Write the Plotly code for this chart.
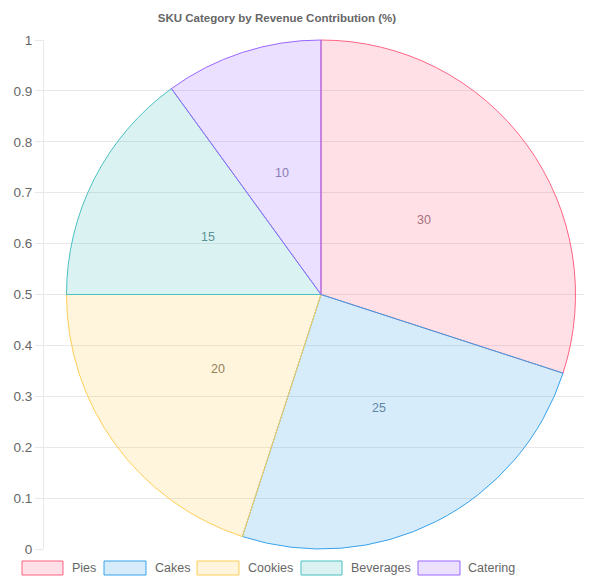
import math
import plotly.graph_objects as go

categories = ["Pies", "Cakes", "Cookies", "Beverages", "Catering"]
values = [30, 25, 20, 15, 10]
fill_colors = ["rgba(255,99,132,0.2)", "rgba(54,162,235,0.2)", "rgba(255,206,86,0.2)",
               "rgba(75,192,192,0.2)", "rgba(153,102,255,0.2)"]
border_colors = ["rgb(255,99,132)", "rgb(54,162,235)", "rgb(255,206,86)",
                 "rgb(75,192,192)", "rgb(153,102,255)"]
label_colors = ["#a8707c", "#5e86a4", "#948259", "#5d9292", "#8a7db4"]
y_ticks = [0, 0.1, 0.2, 0.3, 0.4, 0.5, 0.6, 0.7, 0.8, 0.9, 1]
y_ticklabels = ["0", "0.1", "0.2", "0.3", "0.4", "0.5", "0.6", "0.7", "0.8", "0.9", "1"]

OFF = 8  # page body margin
W, H = 592 - OFF, 577 - OFF
ML, MR, MT, MB = 44 - OFF, 2, 40 - OFF, 28
PW, PH = W - ML - MR, H - MT - MB

def px_x(x):  # screen pixel -> paper
    return (x - OFF - ML) / PW

def px_y(y):
    return (H - MB - (y - OFF)) / PH

def clamp(v):
    return min(1.0, max(0.0, v))

font = "Arial, Liberation Sans, Helvetica, sans-serif"

# pie geometry (screen pixels)
CX, CY, R = 321, 294.5, 254.5

fig = go.Figure()
fig.add_trace(go.Scatter(x=[0, 1], y=[0, 1], mode="markers", marker=dict(opacity=0),
                         hoverinfo="skip", showlegend=False))
fig.add_trace(go.Pie(
    labels=categories, values=values, sort=False, direction="clockwise", rotation=0,
    marker=dict(colors=fill_colors, line=dict(color=border_colors, width=1)),
    textinfo="none",
    domain=dict(x=[clamp(px_x(CX - R)), clamp(px_x(CX + R))],
                y=[clamp(px_y(CY + R)), clamp(px_y(CY - R))]),
    showlegend=False, hoverinfo="label+value",
))

annotations = []
total = sum(values)
cum = 0
for i, v in enumerate(values):
    mid = (cum + v / 2) / total * 2 * math.pi
    cum += v
    lx = CX + 0.5 * R * math.sin(mid)
    ly = CY - 0.5 * R * math.cos(mid)
    annotations.append(dict(xref="paper", yref="paper", x=px_x(lx), y=px_y(ly),
                            text=str(v), showarrow=False, xanchor="center", yanchor="middle",
                            font=dict(family=font, size=12.5, color=label_colors[i])))

shapes = []
box_x = [(22, 63), (104, 146), (197, 239), (301, 342), (418, 460)]
text_x = [70, 153, 246, 349, 466]
for i, cat in enumerate(categories):
    shapes.append(dict(type="rect", xref="paper", yref="paper",
                       x0=px_x(box_x[i][0]), x1=px_x(box_x[i][1]),
                       y0=px_y(575), y1=px_y(561),
                       fillcolor=fill_colors[i], line=dict(color=border_colors[i], width=1)))
    annotations.append(dict(xref="paper", yref="paper", x=px_x(text_x[i]), y=px_y(568),
                            text=cat, showarrow=False, xanchor="left", yanchor="middle",
                            font=dict(family=font, size=12.5, color="#666666")))

fig.update_layout(
    width=W, height=H,
    margin=dict(l=ML, r=MR, t=MT, b=MB),
    paper_bgcolor="white", plot_bgcolor="white",
    title=dict(text="<b>SKU Category by Revenue Contribution (%)</b>",
               x=px_x(277), xanchor="center", xref="paper",
               y=1 - (18 - OFF) / H, yanchor="middle",
               font=dict(family=font, size=11.5, color="#666666")),
    xaxis=dict(range=[0, 1], showgrid=False, zeroline=False, showticklabels=False,
               showline=False, ticks=""),
    yaxis=dict(range=[0, 1], tickvals=y_ticks, ticktext=y_ticklabels,
               showgrid=True, gridcolor="#e8e8e8", gridwidth=1, zeroline=False,
               showline=True, linecolor="#e8e8e8", linewidth=1,
               ticks="outside", ticklen=8, tickcolor="#e8e8e8",
               tickfont=dict(family=font, size=13.5, color="#666666")),
    shapes=shapes, annotations=annotations,
)

fig.write_html("out.html")
